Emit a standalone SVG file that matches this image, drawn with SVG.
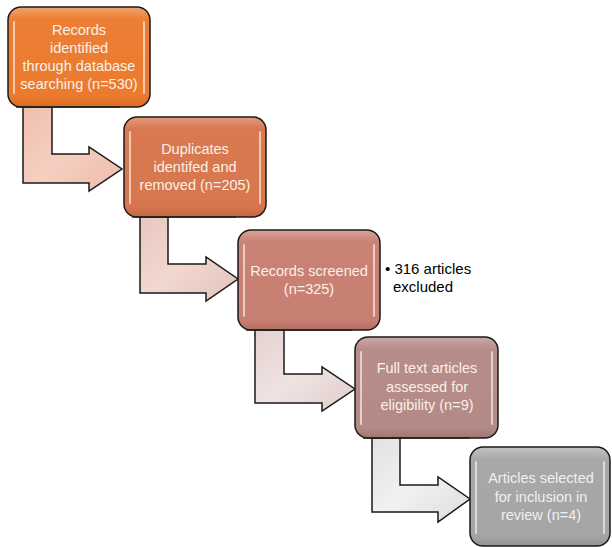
<svg xmlns="http://www.w3.org/2000/svg" width="612" height="547" viewBox="0 0 612 547">
<defs>
<linearGradient id="g1" x1="0" y1="0" x2="0" y2="1"><stop offset="0" stop-color="#F0A46E"/><stop offset="0.12" stop-color="#EC7F34"/><stop offset="0.9" stop-color="#EA7A2E"/><stop offset="1" stop-color="#D86A22"/></linearGradient>
<linearGradient id="g2" x1="0" y1="0" x2="0" y2="1"><stop offset="0" stop-color="#E49C7C"/><stop offset="0.12" stop-color="#D8794F"/><stop offset="0.9" stop-color="#D6774D"/><stop offset="1" stop-color="#C4683F"/></linearGradient>
<linearGradient id="g3" x1="0" y1="0" x2="0" y2="1"><stop offset="0" stop-color="#D9A297"/><stop offset="0.12" stop-color="#C98274"/><stop offset="0.9" stop-color="#C67F71"/><stop offset="1" stop-color="#B36E61"/></linearGradient>
<linearGradient id="g4" x1="0" y1="0" x2="0" y2="1"><stop offset="0" stop-color="#CCA9A6"/><stop offset="0.12" stop-color="#B68D89"/><stop offset="0.9" stop-color="#B38A86"/><stop offset="1" stop-color="#A07672"/></linearGradient>
<linearGradient id="g5" x1="0" y1="0" x2="0" y2="1"><stop offset="0" stop-color="#C4C4C4"/><stop offset="0.12" stop-color="#A8A8A8"/><stop offset="0.9" stop-color="#A5A5A5"/><stop offset="1" stop-color="#939393"/></linearGradient>
<linearGradient id="a1" x1="0" y1="0" x2="1" y2="1"><stop offset="0" stop-color="#F0BFAE"/><stop offset="0.5" stop-color="#F5CFC1"/><stop offset="1" stop-color="#EDBBA9"/></linearGradient>
<linearGradient id="a2" x1="0" y1="0" x2="1" y2="1"><stop offset="0" stop-color="#E8C7BE"/><stop offset="0.5" stop-color="#F1D8D1"/><stop offset="1" stop-color="#E4C2B9"/></linearGradient>
<linearGradient id="a3" x1="0" y1="0" x2="1" y2="1"><stop offset="0" stop-color="#E3D2D0"/><stop offset="0.5" stop-color="#EFE3E2"/><stop offset="1" stop-color="#DFCDCB"/></linearGradient>
<linearGradient id="a4" x1="0" y1="0" x2="1" y2="1"><stop offset="0" stop-color="#E2E2E2"/><stop offset="0.5" stop-color="#F1F1F1"/><stop offset="1" stop-color="#DDDDDD"/></linearGradient>
</defs>
<style>
.box{stroke:#1a1a1a;stroke-width:1.5}
.hl{stroke:#ffffff;stroke-width:2;stroke-linecap:round;opacity:0.6;fill:none}
.sh{stroke:#222;stroke-width:1.5}
.arr{stroke:#1a1a1a;stroke-width:1.5;stroke-linejoin:miter}
.t{font-family:"Liberation Sans",Arial,sans-serif;font-size:14.5px;fill:#FBF0E8;text-anchor:middle}
.t5{fill:#F0F0F0}
.note{font-family:"Liberation Sans",Arial,sans-serif;font-size:15px;fill:#000}
</style>
<g id="connectors">
<path class="arr" fill="url(#a1)" d="M23 107 L52 107 L52 154 L89 154 L89 147 L122 169 L89 191 L89 183 L23 183 Z"/>
<path class="arr" fill="url(#a2)" d="M140 217 L168 217 L168 264 L206 264 L206 257 L238 279 L206 301 L206 293 L140 293 Z"/>
<path class="arr" fill="url(#a3)" d="M255 330 L284 330 L284 374 L322 374 L322 367 L355 389 L322 411 L322 403 L255 403 Z"/>
<path class="arr" fill="url(#a4)" d="M372 438 L400 438 L400 485 L438 485 L438 477 L470 499 L438 522 L438 512 L372 512 Z"/>
</g>
<g id="n1">
<rect class="box" x="8" y="7" width="142" height="100" rx="13" fill="url(#g1)"/>
<line class="sh" x1="16" y1="107" x2="120" y2="107"/>
<line class="hl" x1="14" y1="22" x2="14" y2="93"/>
<line class="hl" x1="144" y1="22" x2="144" y2="93"/>
<text class="t" x="79" y="35">Records</text>
<text class="t" x="79" y="53">identified</text>
<text class="t" x="79" y="71">through database</text>
<text class="t" x="79" y="89">searching (n=530)</text>
</g>
<g id="n2">
<rect class="box" x="124" y="117" width="142" height="100" rx="13" fill="url(#g2)"/>
<line class="sh" x1="132" y1="217" x2="236" y2="217"/>
<line class="hl" x1="130" y1="132" x2="130" y2="203"/>
<line class="hl" x1="260" y1="132" x2="260" y2="203"/>
<text class="t" x="195" y="154">Duplicates</text>
<text class="t" x="195" y="172">identifed and</text>
<text class="t" x="195" y="190">removed (n=205)</text>
</g>
<g id="n3">
<rect class="box" x="238" y="230" width="142" height="100" rx="13" fill="url(#g3)"/>
<line class="sh" x1="246" y1="330" x2="352" y2="330"/>
<line class="hl" x1="244" y1="245" x2="244" y2="316"/>
<line class="hl" x1="374" y1="245" x2="374" y2="316"/>
<text class="t" x="309" y="276">Records screened</text>
<text class="t" x="309" y="294">(n=325)</text>
</g>
<g id="note">
<text class="note" x="385" y="274">• 316 articles</text>
<text class="note" x="393" y="292">excluded</text>
</g>
<g id="n4">
<rect class="box" x="355" y="337" width="143" height="101" rx="13" fill="url(#g4)"/>
<line class="sh" x1="363" y1="438" x2="470" y2="438"/>
<line class="hl" x1="361" y1="352" x2="361" y2="424"/>
<line class="hl" x1="492" y1="352" x2="492" y2="424"/>
<text class="t" x="427" y="373">Full text articles</text>
<text class="t" x="427" y="392">assessed for</text>
<text class="t" x="427" y="410">eligibility (n=9)</text>
</g>
<g id="n5">
<rect class="box" x="470" y="447" width="140" height="99" rx="13" fill="url(#g5)"/>
<line class="hl" x1="476" y1="462" x2="476" y2="533"/>
<line class="hl" x1="604" y1="462" x2="604" y2="533"/>
<text class="t t5" x="541" y="483">Articles selected</text>
<text class="t t5" x="541" y="502">for inclusion in</text>
<text class="t t5" x="541" y="520">review (n=4)</text>
</g>
</svg>
